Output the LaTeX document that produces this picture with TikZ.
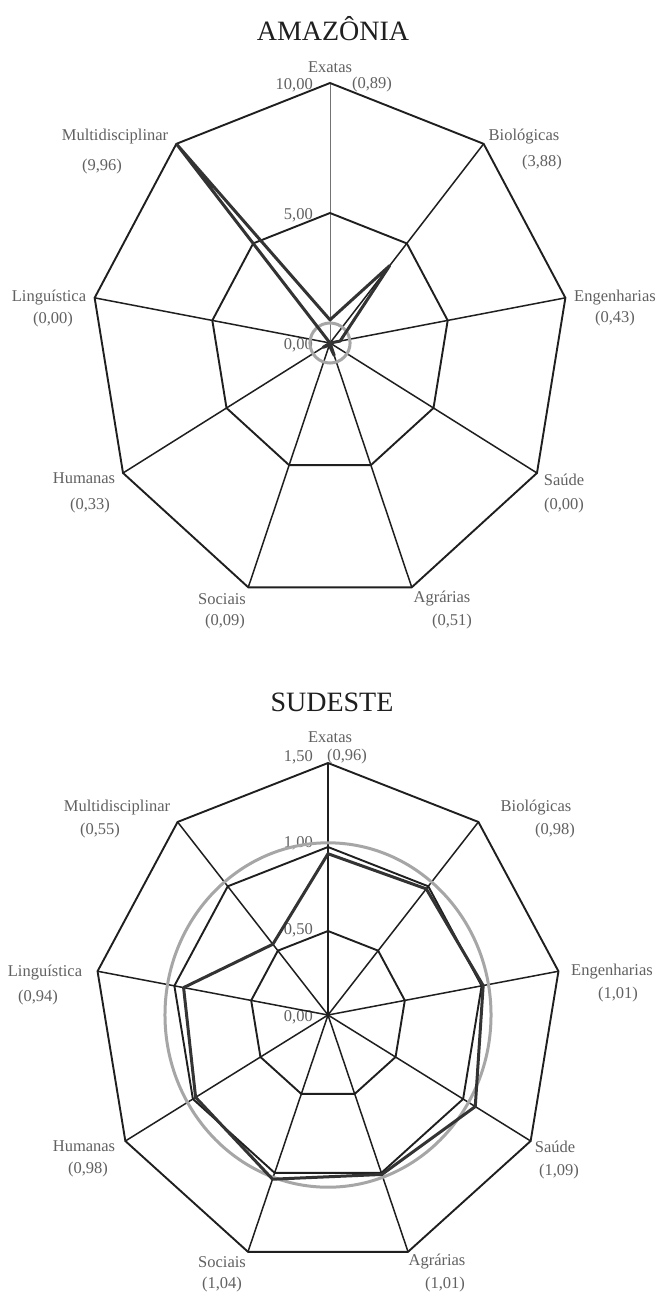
\documentclass[tikz,border=0pt]{standalone}
\usepackage{fontspec}
\setmainfont{Liberation Serif}
\begin{document}
\begin{tikzpicture}[x=1pt,y=-1pt,
  gridline/.style={draw=black!88, line width=1.9pt, line join=miter},
  spoke/.style={draw=black!88, line width=1.5pt},
  thinspoke/.style={draw=black!55, line width=0.8pt},
  dataline/.style={draw=black!80, line width=3pt, line join=round},
  ring/.style={draw=black!35, line width=3pt},
  lab/.style={text=black!62, font=\fontsize{16.5}{18}\selectfont, inner sep=0pt},
  axlab/.style={lab, anchor=east},
  ttl/.style={text=black!88, font=\fontsize{28}{30}\selectfont, inner sep=0pt}]
\useasboundingbox (0,0) rectangle (656,1300);
\fill[white] (0,0) rectangle (656,1300);

%================ AMAZONIA =================
\node[ttl] (t1) at (333,29) {AMAZÔNIA};
\node[axlab] (a10) at (313,85) {10,00};
\node[axlab] (a5) at (313,215) {5,00};
\node[axlab] (a0) at (313,345) {0,00};
\begin{scope}[xshift=330pt,yshift=-343pt,x=23.9pt,y=26pt]
  \foreach \a in {50,10,-30,-70,-110,-150,-190,-230}
    \draw[spoke] (0,0) -- (\a:10);
  \draw[thinspoke] (0,0) -- (90:10);
  \foreach \r in {5,10}
    \draw[gridline] (90:\r) -- (50:\r) -- (10:\r) -- (-30:\r) -- (-70:\r)
      -- (-110:\r) -- (-150:\r) -- (170:\r) -- (130:\r) -- cycle;
  \draw[ring] (0,0) circle[x radius=0.84, y radius=0.77];
  \draw[dataline] (90:0.89) -- (50:3.88) -- (10:0.43) -- (-30:0.001) -- (-70:0.51)
      -- (-110:0.09) -- (-150:0.33) -- (170:0.001) -- (130:9.96) -- cycle;
\end{scope}
\node[lab] (ex1) at (330,67) {Exatas};
\node[lab] (ex1v) at (372,85) {(0,89)};
\node[lab] (bi1) at (524,137) {Biológicas};
\node[lab] (bi1v) at (542,163) {(3,88)};
\node[lab] (en1) at (615,298) {Engenharias};
\node[lab] (en1v) at (615,319) {(0,43)};
\node[lab] (sa1) at (564,480) {Saúde};
\node[lab] (sa1v) at (564,506) {(0,00)};
\node[lab] (ag1) at (442,599) {Agrárias};
\node[lab] (ag1v) at (452,622) {(0,51)};
\node[lab] (so1) at (222,599) {Sociais};
\node[lab] (so1v) at (225,622) {(0,09)};
\node[lab] (hu1) at (84,478) {Humanas};
\node[lab] (hu1v) at (90,506) {(0,33)};
\node[lab] (li1) at (49,298) {Linguística};
\node[lab] (li1v) at (53,320) {(0,00)};
\node[lab] (mu1) at (115,137) {Multidisciplinar};
\node[lab] (mu1v) at (102,167) {(9,96)};

%================ SUDESTE =================
\node[ttl] (t2) at (332,702) {SUDESTE};
\node[axlab] (b15) at (313,757) {1,50};
\node[axlab] (b10) at (313,843) {1,00};
\node[axlab] (b05) at (313,930) {0,50};
\node[axlab] (b00) at (313,1017) {0,00};
\begin{scope}[xshift=328pt,yshift=-1015pt,x=156pt,y=168pt]
  \foreach \a in {90,50,10,-30,-70,-110,-150,-190,-230}
    \draw[spoke] (0,0) -- (\a:1.5);
  \foreach \r in {0.5,1,1.5}
    \draw[gridline] (90:\r) -- (50:\r) -- (10:\r) -- (-30:\r) -- (-70:\r)
      -- (-110:\r) -- (-150:\r) -- (170:\r) -- (130:\r) -- cycle;
  \draw[ring] (0,0) circle[x radius=1.045, y radius=1.025];
  \draw[dataline] (90:0.96) -- (50:0.98) -- (10:1.01) -- (-30:1.09) -- (-70:1.01)
      -- (-110:1.04) -- (-150:0.98) -- (170:0.94) -- (130:0.55) -- cycle;
\end{scope}
\node[lab] (ex2) at (330,737) {Exatas};
\node[lab] (ex2v) at (347,757) {(0,96)};
\node[lab] (bi2) at (536,808) {Biológicas};
\node[lab] (bi2v) at (555,831) {(0,98)};
\node[lab] (en2) at (612,972) {Engenharias};
\node[lab] (en2v) at (618,995) {(1,01)};
\node[lab] (sa2) at (555,1147) {Saúde};
\node[lab] (sa2v) at (559,1172) {(1,09)};
\node[lab] (ag2) at (437,1262) {Agrárias};
\node[lab] (ag2v) at (445,1285) {(1,01)};
\node[lab] (so2) at (222,1262) {Sociais};
\node[lab] (so2v) at (222,1285) {(1,04)};
\node[lab] (hu2) at (84,1146) {Humanas};
\node[lab] (hu2v) at (88,1170) {(0,98)};
\node[lab] (li2) at (45,973) {Linguística};
\node[lab] (li2v) at (38,998) {(0,94)};
\node[lab] (mu2) at (117,808) {Multidisciplinar};
\node[lab] (mu2v) at (100,831) {(0,55)};
\end{tikzpicture}
\end{document}
